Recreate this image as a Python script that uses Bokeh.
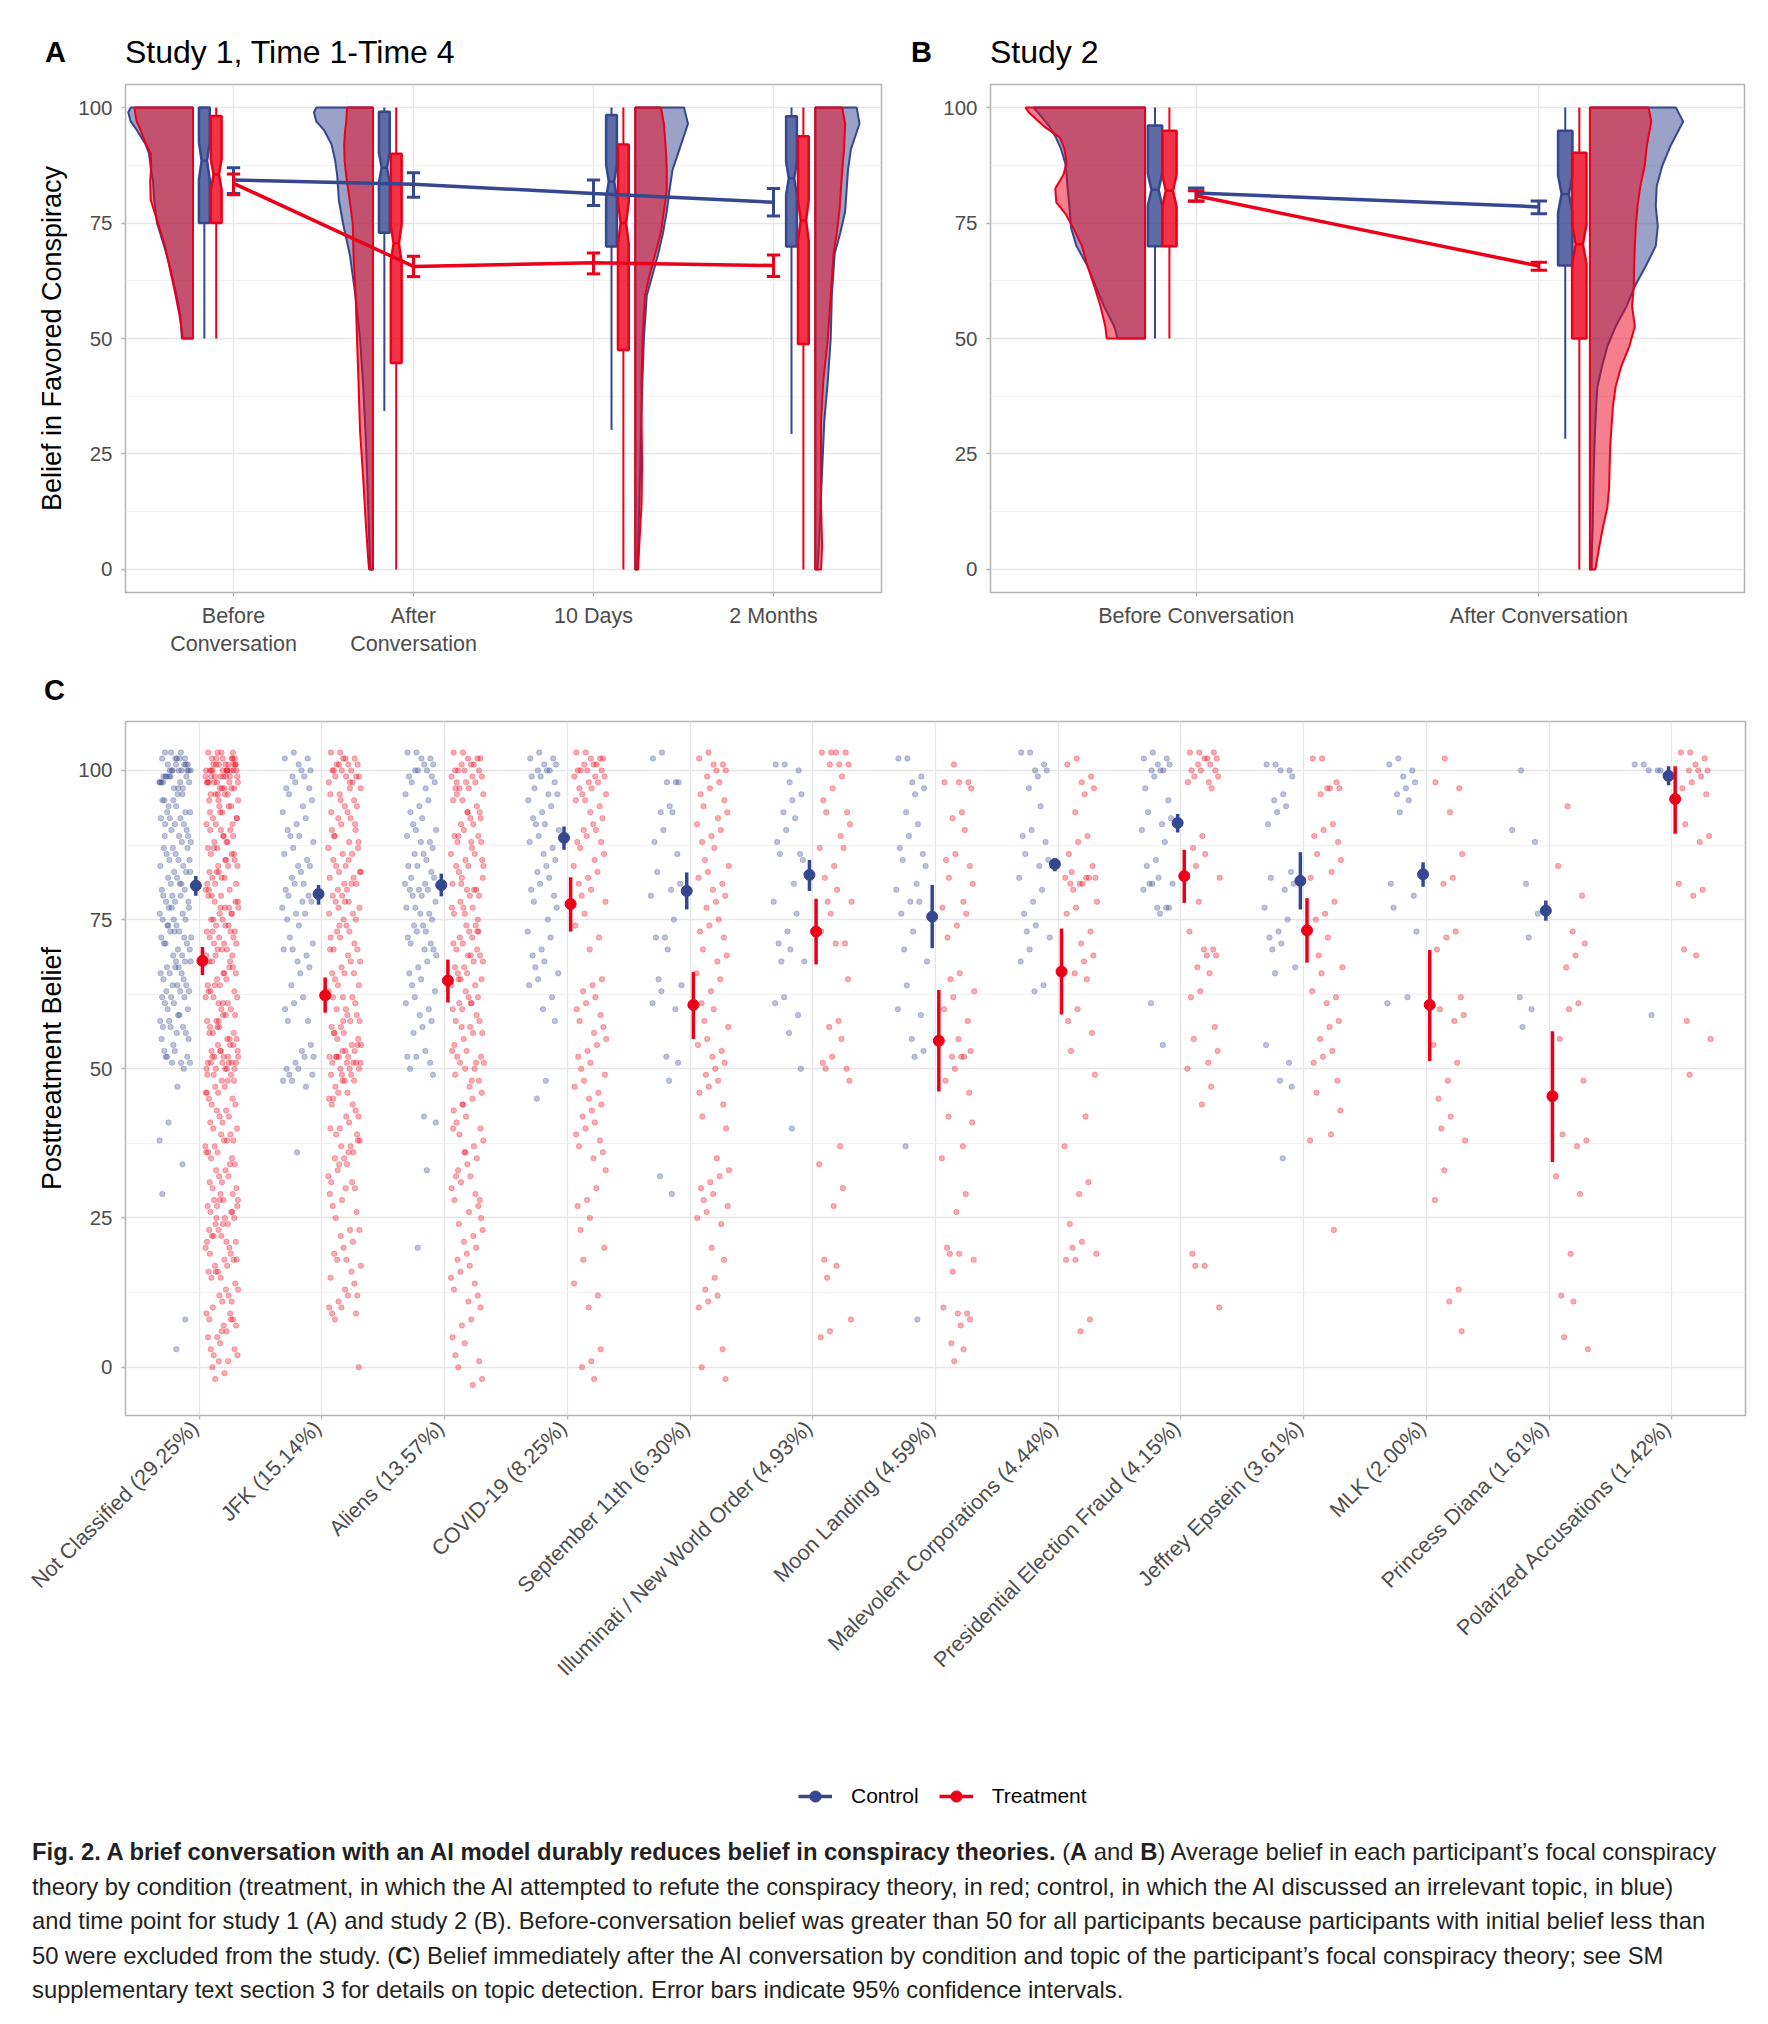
import math
from bokeh.plotting import figure
from bokeh.models import FixedTicker, Legend, LegendItem, Range1d, Div
from bokeh.layouts import column, row
from bokeh.embed import file_html
from bokeh.resources import INLINE

BLUE = "#35478f"
RED = "#ec0019"
FONT = "Liberation Sans"
NARROW = "'Liberation Sans Narrow','Arial Narrow',sans-serif"
GRID = "#e6e6e6"
MINOR = "#f2f2f2"
BORDER = "#b3b3b3"
TICKC = "#4d4d4d"

# ---------------- Panel A data (Study 1) ----------------
a_times = ["Before\nConversation", "After\nConversation", "10 Days", "2 Months"]
a_ctrl_mean = [84.3, 83.4, 81.4, 79.5]
a_ctrl_lo = [81.4, 80.6, 78.8, 76.5]
a_ctrl_hi = [87.0, 85.9, 84.3, 82.5]
a_trt_mean = [83.6, 65.6, 66.4, 65.8]
a_trt_lo = [81.1, 63.4, 64.0, 63.4]
a_trt_hi = [85.6, 67.8, 68.5, 68.1]
a_ctrl_q1 = [75.0, 72.9, 69.9, 69.9]
a_ctrl_med = [88.5, 87.0, 84.0, 84.7]
a_ctrl_q3 = [100.0, 99.1, 98.4, 98.1]
a_ctrl_wlo = [50.0, 34.3, 30.2, 29.3]
a_ctrl_whi = [100.0, 100.0, 100.0, 100.0]
a_ctrl_notch = [4.0, 3.2, 3.6, 3.6]
a_trt_q1 = [75.0, 44.7, 47.5, 48.8]
a_trt_med = [85.5, 70.6, 75.0, 75.6]
a_trt_q3 = [98.2, 90.0, 92.0, 93.8]
a_trt_wlo = [50.0, 0.0, 0.0, 0.0]
a_trt_whi = [100.0, 100.0, 100.0, 100.0]
a_trt_notch = [3.3, 4.0, 4.5, 4.5]
# half-violin density widths
a_vio_y = [
    [100, 99, 97, 95, 92, 90, 87, 84, 80, 75, 70, 65, 60, 55, 50],
    [100, 99, 97, 95, 92, 88.5, 85, 80, 75, 68, 60, 50, 40, 30, 20, 10, 3, 0],
    [100, 96.5, 91, 86.5, 82, 77.5, 73, 68.4, 63.8, 59.3, 50, 41, 32, 23, 14, 5, 0],
    [100, 96.5, 91, 86.5, 77.5, 73, 68.4, 59.3, 50, 41, 32, 23, 14, 5, 0],
]
a_vio_ctrl = [
    [0.345, 0.36, 0.346, 0.31, 0.263, 0.244, 0.235, 0.222, 0.215, 0.2, 0.16, 0.125, 0.095, 0.07, 0.062],
    [0.315, 0.328, 0.315, 0.27, 0.23, 0.21, 0.198, 0.19, 0.167, 0.128, 0.1, 0.072, 0.055, 0.042, 0.032, 0.024, 0.018, 0.015],
    [0.271, 0.293, 0.246, 0.207, 0.19, 0.175, 0.155, 0.128, 0.096, 0.064, 0.048, 0.04, 0.033, 0.028, 0.022, 0.016, 0.01],
    [0.23, 0.246, 0.198, 0.182, 0.166, 0.14, 0.108, 0.092, 0.086, 0.07, 0.05, 0.04, 0.03, 0.02, 0.012],
]
a_vio_trt = [
    [0.324, 0.322, 0.313, 0.29, 0.26, 0.235, 0.232, 0.238, 0.235, 0.195, 0.155, 0.128, 0.1, 0.075, 0.056],
    [0.143, 0.146, 0.148, 0.155, 0.16, 0.158, 0.148, 0.13, 0.113, 0.108, 0.097, 0.089, 0.08, 0.072, 0.055, 0.04, 0.028, 0.022],
    [0.143, 0.159, 0.17, 0.175, 0.175, 0.159, 0.143, 0.112, 0.08, 0.054, 0.041, 0.035, 0.035, 0.038, 0.035, 0.022, 0.016],
    [0.15, 0.166, 0.16, 0.15, 0.134, 0.12, 0.102, 0.086, 0.07, 0.045, 0.032, 0.032, 0.032, 0.038, 0.032],
]

# ---------------- Panel B data (Study 2) ----------------
b_times = ["Before Conversation", "After Conversation"]
b_ctrl_mean = [81.5, 78.5]
b_ctrl_lo = [79.8, 77.0]
b_ctrl_hi = [82.6, 79.8]
b_trt_mean = [80.9, 65.7]
b_trt_lo = [79.7, 64.8]
b_trt_hi = [82.0, 66.5]
b_ctrl_q1 = [70.0, 65.8]
b_ctrl_med = [82.2, 81.3]
b_ctrl_q3 = [96.1, 95.0]
b_ctrl_wlo = [50.0, 28.3]
b_ctrl_whi = [100.0, 100.0]
b_ctrl_notch = [3.5, 4.0]
b_trt_q1 = [70.0, 50.0]
b_trt_med = [82.0, 70.4]
b_trt_q3 = [95.0, 90.2]
b_trt_wlo = [50.0, 0.0]
b_trt_whi = [100.0, 100.0]
b_trt_notch = [3.5, 4.2]
b_vio_y = [
    [100, 98.7, 96, 93.5, 91, 88, 85.5, 82.5, 79.5, 77, 74, 70, 65.7, 61.3, 57, 52.6, 50],
    [100, 97, 91.7, 87.4, 83, 78.7, 74.3, 70, 65.7, 61.3, 57, 52.6, 48.3, 43.9, 39.6, 35.2, 26.5, 17.8, 13.5, 9.1, 4.8, 0],
]
b_vio_ctrl = [
    [0.325, 0.31, 0.28, 0.26, 0.245, 0.233, 0.229, 0.226, 0.222, 0.219, 0.216, 0.2, 0.168, 0.144, 0.12, 0.09, 0.08],
    [0.251, 0.272, 0.235, 0.211, 0.195, 0.192, 0.198, 0.192, 0.163, 0.131, 0.107, 0.075, 0.051, 0.035, 0.022, 0.018, 0.013, 0.01, 0.009, 0.008, 0.006, 0.005],
]
b_vio_trt = [
    [0.349, 0.336, 0.296, 0.248, 0.235, 0.229, 0.238, 0.262, 0.259, 0.232, 0.21, 0.184, 0.168, 0.148, 0.13, 0.116, 0.112],
    [0.171, 0.179, 0.166, 0.16, 0.147, 0.139, 0.134, 0.131, 0.129, 0.128, 0.123, 0.131, 0.115, 0.091, 0.075, 0.067, 0.059, 0.056, 0.051, 0.038, 0.027, 0.016],
]

# ---------------- Panel C data ----------------
c_topics = ["Not Classified  (29.25%)", "JFK  (15.14%)", "Aliens  (13.57%)", "COVID-19  (8.25%)",
            "September 11th  (6.30%)", "Illuminati / New World Order  (4.93%)", "Moon Landing  (4.59%)",
            "Malevolent Corporations  (4.44%)", "Presidential Election Fraud  (4.15%)",
            "Jeffrey Epstein  (3.61%)", "MLK  (2.00%)", "Princess Diana  (1.61%)",
            "Polarized Accusations  (1.42%)"]
c_ctrl_mean = [80.7, 79.3, 80.8, 88.7, 79.8, 82.5, 75.5, 84.3, 91.2, 81.5, 82.6, 76.5, 99.1]
c_ctrl_lo = [79.0, 77.5, 78.9, 86.7, 76.7, 79.8, 70.2, 83.1, 89.6, 76.7, 80.5, 74.8, 97.5]
c_ctrl_hi = [82.3, 80.8, 82.7, 90.6, 82.9, 85.0, 80.8, 85.3, 92.7, 86.3, 84.6, 78.2, 100.7]
c_trt_mean = [68.1, 62.3, 64.8, 77.6, 60.7, 73.0, 54.7, 66.3, 82.3, 73.2, 60.7, 45.4, 95.2]
c_trt_lo = [65.7, 59.4, 61.1, 73.0, 55.0, 67.5, 46.2, 59.1, 77.8, 67.8, 51.3, 34.4, 89.4]
c_trt_hi = [70.4, 65.3, 68.3, 82.1, 66.2, 78.5, 63.2, 73.5, 86.7, 78.6, 69.9, 56.3, 100.7]

c_ctrl_pts = [
    "103 102 102 101 101 100 100 100 100 99 99 99 98 98 98 97 97 103 102 101 100 99 98 101 102 100 97 99 103 100 98 101 99 100 102 98 "
    "96 95 95 94 93 93 92 92 91 91 90 96 94 92 90 95 93 91 89 89 88 88 87 87 86 86 85 85 84 84 83 83 82 82 81 81 80 80 89 87 85 83 81 "
    "79 79 78 78 77 77 76 76 75 75 74 74 73 73 72 72 71 71 70 70 79 77 75 73 71 78 74 72 69 69 68 68 67 67 66 66 65 65 64 64 63 63 62 62 "
    "61 61 60 60 68 66 64 62 67 63 59 58 58 57 57 56 56 55 59 57 55 54 53 52 52 51 51 51 50 53 52 47 41 38 34 29 8 3",
    "103 102 102 101 100 100 99 99 98 97 97 96 95 94 93 92 91 90 89 89 88 87 86 85 84 84 83 82 81 81 80 79 79 78 78 77 76 76 75 74 72 71 "
    "70 70 69 68 67 66 64 62 61 60 58 58 54 53 52 52 51 50 50 49 49 48 48 47 36",
    "103 103 102 102 101 101 100 100 100 99 99 98 98 97 96 95 94 93 92 91 90 90 89 88 88 87 86 86 85 84 84 83 82 82 81 81 80 80 80 79 79 "
    "78 77 77 76 76 75 74 74 73 73 72 71 71 70 70 69 68 67 66 65 64 63 62 61 60 59 58 57 56 53 52 52 51 50 49 42 41 33 20",
    "103 102 102 101 101 100 100 100 99 99 98 97 96 96 95 94 93 92 91 91 90 89 88 87 86 85 84 83 82 81 80 79 78 77 75 73 72 70 69 68 67 "
    "66 65 64 62 60 58 48 45",
    "103 102 98 98 98 94 93 93 90 88 86 83 81 80 79 75 72 72 70 65 64 63 61 60 52 51 48 32 29",
    "101 101 100 98 96 95 93 92 90 88 86 86 85 81 78 76 73 71 70 68 68 62 61 59 56 50 40",
    "102 102 99 98 97 96 93 91 89 87 86 85 84 81 80 78 78 76 73 70 68 64 60 59 55 53 52 37 8",
    "103 103 101 100 100 99 97 94 90 89 88 86 85 84 82 80 78 76 74 73 72 70 68 64 63",
    "103 102 102 101 101 100 100 100 99 97 95 93 92 91 90 88 85 84 82 81 81 81 80 77 77 77 76 61 54",
    "101 101 100 100 99 96 95 94 93 91 83 82 81 80 77 75 73 72 71 70 67 66 54 51 48 47 35",
    "102 101 100 99 98 97 96 95 93 81 79 77 73 62 61",
    "100 90 88 81 76 72 62 60 57",
    "101 101 100 100 100 59",
]
c_trt_pts = [
    "103 103 102 102 102 101 101 101 101 100 100 100 100 100 100 99 99 99 99 98 98 98 98 97 97 97 96 96 96 95 95 103 102 101 100 99 98 "
    "97 96 100 101 99 102 98 100 103 101 97 99 100 96 98 102 100 101 99 95 "
    "94 94 93 93 92 92 91 91 90 90 89 89 88 88 87 87 86 86 85 85 84 84 83 83 82 82 81 81 80 80 93 91 89 87 85 83 81 94 90 86 82 92 88 84 80 "
    "79 79 78 78 77 77 76 76 75 75 74 74 73 73 72 72 71 71 70 70 79 77 75 73 71 78 74 72 76 70 73 77 "
    "69 69 68 68 67 66 66 65 65 64 64 63 63 62 62 61 61 60 60 68 66 64 62 67 63 69 61 "
    "59 59 58 58 57 57 56 56 55 55 54 54 53 53 52 52 52 51 51 51 51 50 50 50 50 58 56 54 52 51 50 57 55 53 51 59 49 53 52 "
    "49 49 48 48 47 47 46 46 45 45 44 44 43 43 42 42 41 41 40 40 48 46 "
    "39 39 38 38 37 37 36 36 35 35 34 33 33 32 32 31 31 30 30 38 36 34 "
    "29 29 28 28 28 27 27 26 26 25 25 24 24 23 23 22 22 21 21 20 20 28 26 24 22 27 25 21 "
    "19 19 18 18 17 17 16 16 15 15 14 13 13 12 12 11 11 10 18 16 9 9 8 8 7 7 6 5 5 4 3 3 2 2 1 1 8 6 0 -1 -2",
    "103 103 102 102 101 101 101 100 100 100 99 99 99 98 98 98 102 100 99 101 97 96 96 95 94 94 93 92 92 91 90 90 89 88 88 87 86 86 85 "
    "84 84 83 83 82 82 81 81 80 80 97 95 93 91 89 87 85 83 81 79 79 78 78 77 77 76 76 75 75 74 73 73 72 72 71 70 70 69 68 68 67 66 66 "
    "65 64 64 63 62 62 61 60 60 78 74 70 66 62 59 59 58 58 57 57 56 56 55 55 54 54 53 53 53 52 52 52 52 51 51 51 51 50 50 50 49 58 56 "
    "54 52 51 49 49 48 48 47 46 46 45 44 44 43 42 42 41 40 40 48 45 39 39 38 37 37 36 35 35 34 33 32 31 31 30 30 38 36 34 29 28 27 26 "
    "25 23 23 22 21 20 19 18 18 17 16 15 14 13 12 12 11 10 10 9 9 8 0",
    "103 103 102 102 102 101 101 101 100 100 100 100 99 99 99 98 98 98 97 97 96 95 95 94 93 93 92 91 91 90 89 89 88 88 87 86 86 85 84 "
    "84 83 82 82 81 80 80 79 79 78 77 77 76 75 96 92 88 84 80 76 97 93 89 85 81 77 74 74 73 73 72 72 71 71 70 70 69 69 68 68 67 67 66 "
    "66 65 65 64 64 63 62 62 61 61 60 60 59 58 58 57 56 56 55 54 53 52 52 51 51 50 50 73 69 65 61 57 53 51 49 48 47 46 45 44 43 42 41 "
    "40 39 38 37 36 35 34 33 32 31 30 29 28 27 26 25 48 44 40 36 32 28 24 23 22 21 20 19 18 17 16 15 14 13 12 11 10 8 7 5 4 2 1 0 -2 -3",
    "103 103 102 102 102 101 101 101 100 100 100 100 99 99 99 98 98 97 97 96 96 95 95 94 93 92 91 90 90 89 88 88 87 86 85 84 83 82 81 "
    "80 79 78 76 74 72 70 65 64 63 62 61 60 59 58 57 56 55 54 53 52 51 50 49 48 47 46 45 44 43 42 41 40 39 38 37 36 35 33 30 28 27 25 "
    "23 20 18 14 12 10 3 1 0 -2",
    "103 102 101 101 100 100 99 98 97 96 95 94 93 92 91 90 89 88 87 85 84 83 82 81 80 79 78 77 75 74 73 72 70 69 68 66 65 63 61 60 58 "
    "57 55 54 53 52 51 50 49 48 47 46 44 42 40 35 33 32 31 30 29 28 27 26 25 24 20 18 15 13 12 11 10 3 0 -2",
    "103 103 103 103 101 101 101 99 97 95 93 93 91 89 87 87 84 82 80 78 78 76 73 71 71 65 58 57 55 52 51 50 50 48 37 34 30 27 18 17 15 8 6 5",
    "101 98 98 98 97 93 92 90 86 85 84 82 81 78 77 76 74 72 66 65 63 62 60 58 55 53 52 52 52 50 48 46 42 41 37 35 29 26 20 19 19 18 16 "
    "10 9 9 8 7 4 3 1",
    "102 101 99 98 97 96 93 89 88 86 84 83 82 82 82 82 81 81 81 80 78 77 76 73 71 69 68 66 65 60 58 56 53 49 42 37 31 29 24 21 20 19 18 18 8 6",
    "103 103 103 102 102 102 101 101 100 100 100 99 99 98 98 97 89 87 86 84 82 78 73 70 70 69 69 67 66 63 62 57 55 53 51 50 47 44 19 17 17 10",
    "102 102 98 97 97 97 96 91 90 89 88 86 85 83 82 78 76 75 72 69 67 66 63 62 61 58 57 55 53 52 51 48 46 43 39 38 23",
    "102 98 97 93 86 82 81 73 72 70 62 60 59 58 54 51 48 45 42 40 38 33 28 13 11 6",
    "94 84 79 73 71 69 67 61 60 55 48 39 38 37 32 29 19 12 11 5 3",
    "103 103 102 101 100 100 100 99 98 97 96 91 89 88 81 80 79 70 69 58 55 49",
]
legend_labels = ["Control", "Treatment"]
panel_titles = ["Study 1, Time 1-Time 4", "Study 2"]
panel_letters = ["A", "B", "C"]

caption_lines = [
    "<b>Fig. 2. A brief conversation with an AI model durably reduces belief in conspiracy theories.</b> (<b>A</b> and <b>B</b>) Average belief in each participant’s focal conspiracy",
    "theory by condition (treatment, in which the AI attempted to refute the conspiracy theory, in red; control, in which the AI discussed an irrelevant topic, in blue)",
    "and time point for study 1 (A) and study 2 (B). Before-conversation belief was greater than 50 for all participants because participants with initial belief less than",
    "50 were excluded from the study. (<b>C</b>) Belief immediately after the AI conversation by condition and topic of the participant’s focal conspiracy theory; see SM",
    "supplementary text section 3 for details on topic detection. Error bars indicate 95% confidence intervals.",
]


def style(p, yticks, yminor, xticks, labels, xfont="21.5px", yfont="20.5px"):
    p.outline_line_color = BORDER
    p.outline_line_width = 1.5
    p.background_fill_color = "white"
    p.yaxis.ticker = FixedTicker(ticks=yticks, minor_ticks=yminor)
    p.xaxis.ticker = FixedTicker(ticks=xticks)
    p.xaxis.major_label_overrides = {t: l for t, l in zip(xticks, labels)}
    for ax in (p.xaxis, p.yaxis):
        ax.axis_line_color = None
        ax.major_tick_line_color = BORDER
        ax.major_tick_line_width = 1.3
        ax.major_tick_out = 4
        ax.major_tick_in = 0
        ax.minor_tick_line_color = None
        ax.major_label_text_font = FONT
        ax.major_label_text_color = TICKC
        ax.axis_label_text_font = FONT
        ax.axis_label_text_font_size = "27px"
        ax.axis_label_text_font_style = "normal"
        ax.axis_label_text_color = "black"
    p.xaxis.major_label_text_font_size = xfont
    p.yaxis.major_label_text_font_size = yfont
    p.xaxis.major_label_standoff = 7
    p.yaxis.major_label_standoff = 9
    p.xgrid.grid_line_color = GRID
    p.xgrid.grid_line_width = 1.3
    p.ygrid.grid_line_color = GRID
    p.ygrid.grid_line_width = 1.3
    p.ygrid.minor_grid_line_color = MINOR
    p.ygrid.minor_grid_line_width = 1.0


def half_violin(p, edge, direction, ys, ws, color):
    xs = [edge + direction * w for w in ws] + [edge, edge]
    yy = list(ys) + [ys[-1], ys[0]]
    p.patch(xs, yy, fill_color=color, fill_alpha=0.5, line_color=color, line_width=2)


def notched_box(p, cx, hw, q1, med, q3, nh, wlo, whi, color):
    xs = [cx - hw, cx - hw, cx - hw / 2, cx - hw, cx - hw, cx + hw, cx + hw, cx + hw / 2, cx + hw, cx + hw]
    ys = [q3, med + nh, med, med - nh, q1, q1, med - nh, med, med + nh, q3]
    p.segment(x0=[cx, cx], y0=[q3, q1], x1=[cx, cx], y1=[whi, wlo], line_color=color, line_width=2)
    p.patch(xs, ys, fill_color=color, fill_alpha=0.8, line_color=color, line_width=2.5)
    p.segment(x0=[cx - hw / 2], y0=[med], x1=[cx + hw / 2], y1=[med], line_color=color, line_width=2.5)


def errorbars(p, xs, lo, hi, color, cap):
    p.segment(x0=xs, y0=lo, x1=xs, y1=hi, line_color=color, line_width=3)
    p.segment(x0=[x - cap for x in xs], y0=lo, x1=[x + cap for x in xs], y1=lo, line_color=color, line_width=3)
    p.segment(x0=[x - cap for x in xs], y0=hi, x1=[x + cap for x in xs], y1=hi, line_color=color, line_width=3)


def span(text, left, top, size, bold=False, family=FONT):
    weight = "bold" if bold else "normal"
    return ("<span style=\"position:absolute;left:%dpx;top:%.1fpx;font-family:%s;font-size:%spx;"
            "font-weight:%s;line-height:%spx;white-space:nowrap;color:black;\">%s</span>"
            % (left, top, family, size, weight, size, text))


# ---------------- header (panel letters and titles) ----------------
header = Div(width=1760, height=78, margin=(0, 0, 0, 0), text=(
    "<div style=\"position:relative;width:1760px;height:78px;\">"
    + span(panel_letters[0], 45, 38.2, 29, True, NARROW)
    + span(panel_titles[0], 125, 35.6, 32)
    + span(panel_letters[1], 911, 38.2, 29, True, NARROW)
    + span(panel_titles[1], 990, 35.6, 32)
    + "</div>"))

# ---------------- Panel A ----------------
pA = figure(width=900, height=590, output_backend="svg", toolbar_location=None,
            x_range=Range1d(0.4, 4.6), y_range=Range1d(-5, 105),
            min_border_left=125, min_border_right=19, min_border_top=6, min_border_bottom=76)
style(pA, [0, 25, 50, 75, 100], [12.5, 37.5, 62.5, 87.5], [1, 2, 3, 4], a_times)
pA.yaxis.axis_label = "Belief in Favored Conspiracy"
pA.yaxis.axis_label_standoff = 8
a_x = [1, 2, 3, 4]
a_edge = [-0.225, -0.225, 0.232, 0.232]
a_dir = [-1, -1, 1, 1]
a_box_c = [-0.162, -0.162, 0.10, 0.10]
a_box_t = [-0.096, -0.096, 0.166, 0.166]
for i, x in enumerate(a_x):
    half_violin(pA, x + a_edge[i], a_dir[i], a_vio_y[i], a_vio_ctrl[i], BLUE)
    half_violin(pA, x + a_edge[i], a_dir[i], a_vio_y[i], a_vio_trt[i], RED)
for i, x in enumerate(a_x):
    notched_box(pA, x + a_box_c[i], 0.03, a_ctrl_q1[i], a_ctrl_med[i], a_ctrl_q3[i], a_ctrl_notch[i],
                a_ctrl_wlo[i], a_ctrl_whi[i], BLUE)
    notched_box(pA, x + a_box_t[i], 0.03, a_trt_q1[i], a_trt_med[i], a_trt_q3[i], a_trt_notch[i],
                a_trt_wlo[i], a_trt_whi[i], RED)
pA.line(a_x, a_ctrl_mean, line_color=BLUE, line_width=3.5)
errorbars(pA, a_x, a_ctrl_lo, a_ctrl_hi, BLUE, 0.037)
pA.line(a_x, a_trt_mean, line_color=RED, line_width=3.5)
errorbars(pA, a_x, a_trt_lo, a_trt_hi, RED, 0.037)

# ---------------- Panel B ----------------
pB = figure(width=860, height=590, output_backend="svg", toolbar_location=None,
            x_range=Range1d(0.4, 2.6), y_range=Range1d(-5, 105),
            min_border_left=90, min_border_right=16, min_border_top=6, min_border_bottom=53)
style(pB, [0, 25, 50, 75, 100], [12.5, 37.5, 62.5, 87.5], [1, 2], b_times)
b_x = [1, 2]
b_edge = [-0.149, 0.149]
b_dir = [-1, 1]
b_box_c = [-0.12, 0.077]
b_box_t = [-0.078, 0.118]
for i, x in enumerate(b_x):
    half_violin(pB, x + b_edge[i], b_dir[i], b_vio_y[i], b_vio_ctrl[i], BLUE)
    half_violin(pB, x + b_edge[i], b_dir[i], b_vio_y[i], b_vio_trt[i], RED)
for i, x in enumerate(b_x):
    notched_box(pB, x + b_box_c[i], 0.021, b_ctrl_q1[i], b_ctrl_med[i], b_ctrl_q3[i], b_ctrl_notch[i],
                b_ctrl_wlo[i], b_ctrl_whi[i], BLUE)
    notched_box(pB, x + b_box_t[i], 0.021, b_trt_q1[i], b_trt_med[i], b_trt_q3[i], b_trt_notch[i],
                b_trt_wlo[i], b_trt_whi[i], RED)
pB.line(b_x, b_ctrl_mean, line_color=BLUE, line_width=3.5)
errorbars(pB, b_x, b_ctrl_lo, b_ctrl_hi, BLUE, 0.024)
pB.line(b_x, b_trt_mean, line_color=RED, line_width=3.5)
errorbars(pB, b_x, b_trt_lo, b_trt_hi, RED, 0.024)

# ---------------- Panel C ----------------
headC = Div(width=1760, height=47, margin=(0, 0, 0, 0), text=(
    "<div style=\"position:relative;width:1760px;height:47px;\">"
    + span(panel_letters[2], 44, 7.5, 29, True, NARROW) + "</div>"))

pC = figure(width=1760, height=1060, output_backend="svg", toolbar_location=None,
            x_range=Range1d(-0.6, 12.6), y_range=Range1d(-8.1, 108.2),
            min_border_left=125, min_border_right=15, min_border_top=6, min_border_bottom=360)
style(pC, [0, 25, 50, 75, 100], [12.5, 37.5, 62.5, 87.5], list(range(13)), c_topics)
pC.xaxis.major_label_orientation = math.pi / 4
pC.xaxis.major_label_standoff = 1
pC.yaxis.axis_label = "Posttreatment Belief"
pC.yaxis.axis_label_standoff = 8


def jitter_x(i, n, center, half):
    out = []
    for k in range(n):
        f = (k * 0.6180339887 + 0.37 + 0.35 * ((k * 0.2862) % 1.0)) % 1.0
        out.append(i + center + half * (2 * f - 1))
    return out


cx_c, cy_c, cx_t, cy_t = [], [], [], []
for i in range(13):
    vc = [float(v) for v in c_ctrl_pts[i].split()]
    vt = [float(v) for v in c_trt_pts[i].split()]
    cx_c += jitter_x(i, len(vc), -0.195, 0.13)
    cy_c += vc
    cx_t += jitter_x(i, len(vt), 0.185, 0.135)
    cy_t += vt
pC.scatter(cx_c, cy_c, size=5.5, fill_color=BLUE, fill_alpha=0.33, line_color=BLUE, line_alpha=0.3, line_width=0.8)
pC.scatter(cx_t, cy_t, size=5.5, fill_color=RED, fill_alpha=0.33, line_color=RED, line_alpha=0.3, line_width=0.8)

c_xc = [i - 0.027 for i in range(13)]
c_xt = [i + 0.027 for i in range(13)]
pC.segment(x0=c_xc, y0=c_ctrl_lo, x1=c_xc, y1=c_ctrl_hi, line_color=BLUE, line_width=3.5)
pC.scatter(c_xc, c_ctrl_mean, size=11, fill_color=BLUE, line_color=BLUE)
pC.segment(x0=c_xt, y0=c_trt_lo, x1=c_xt, y1=c_trt_hi, line_color=RED, line_width=3.5)
pC.scatter(c_xt, c_trt_mean, size=11, fill_color=RED, line_color=RED)

# ---------------- legend strip (same series, drawn outside its view; only the legend shows) ----------------
pL = figure(width=1760, height=45, output_backend="svg", toolbar_location=None,
            x_range=Range1d(-0.6, 12.6), y_range=Range1d(300, 301), x_axis_type=None, y_axis_type=None,
            min_border=0, outline_line_color=None)
lc1 = pL.segment(x0=c_xc, y0=c_ctrl_lo, x1=c_xc, y1=c_ctrl_hi, line_color=BLUE, line_width=3.5)
lc2 = pL.scatter(c_xc, c_ctrl_mean, size=11, fill_color=BLUE, line_color=BLUE)
lt1 = pL.segment(x0=c_xt, y0=c_trt_lo, x1=c_xt, y1=c_trt_hi, line_color=RED, line_width=3.5)
lt2 = pL.scatter(c_xt, c_trt_mean, size=11, fill_color=RED, line_color=RED)
legend = Legend(items=[LegendItem(label=legend_labels[0], renderers=[lc1, lc2]),
                       LegendItem(label=legend_labels[1], renderers=[lt1, lt2])],
                location=(673, 10), orientation="horizontal",
                label_text_font=FONT, label_text_font_size="21px", label_text_color="black",
                glyph_width=34, glyph_height=28, label_height=28, label_standoff=19, spacing=20,
                padding=0, margin=0, border_line_alpha=0, background_fill_alpha=0)
pL.add_layout(legend)

caption = Div(width=1760, height=185, margin=(0, 0, 0, 0), text=(
    "<div style=\"font-family:" + NARROW + ";font-size:23.8px;"
    "line-height:34.5px;padding-left:32px;padding-top:15px;white-space:nowrap;color:#231f20;\">"
    + "<br>".join(caption_lines) + "</div>"))

layout = column(header, row(pA, pB), headC, pC, pL, caption)
open("out.html", "w").write(file_html(layout, INLINE))
